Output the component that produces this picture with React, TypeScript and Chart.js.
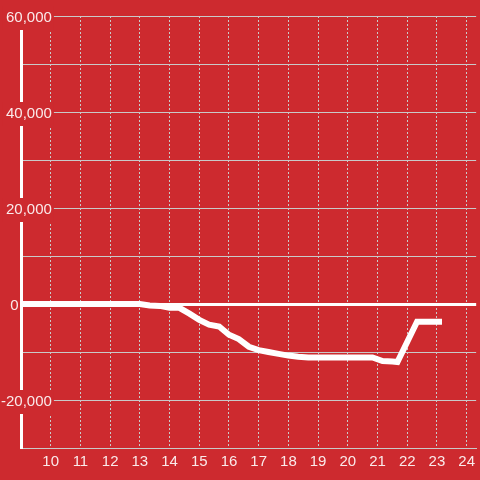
import React, { useEffect, useRef } from "react";
import { Chart, registerables } from "chart.js";

Chart.register(...registerables);

// hour of day (decimal) and running value
const hours = [
  8.5, 9, 10, 11, 12, 13, 13.33, 13.67, 14, 14.33, 14.67, 15, 15.33, 15.67, 16, 16.33,
  16.67, 17, 17.33, 17.67, 18, 18.33, 18.67, 19, 19.5, 20, 20.5, 20.83, 21.17, 21.5,
  21.67, 22.33, 22.67, 23, 23.17,
];
const values = [
  0, 0, 0, 0, 0, 0, -300, -400, -800, -800, -2000, -3300, -4300, -4700, -6400, -7300,
  -8900, -9600, -10000, -10400, -10750, -11000, -11150, -11150, -11150, -11150, -11150,
  -11150, -11900, -12000, -12100, -3700, -3700, -3700, -3700,
];
const yLabelValues = [60000, 40000, 20000, 0, -20000];
const xLabelValues = [10, 11, 12, 13, 14, 15, 16, 17, 18, 19, 20, 21, 22, 23, 24];

const RED = "#cd2a2f";
const GRID = "#c9c9c9";
const TEXT = "rgba(255,255,255,0.9)";
const FONT = { family: "'Liberation Sans', Arial, sans-serif", size: 15 };

export default function App() {
  const ref = useRef<HTMLCanvasElement | null>(null);

  useEffect(() => {
    if (!ref.current) return;
    const chart = new Chart(ref.current, {
      type: "line",
      data: {
        datasets: [
          {
            data: hours.map((h, i) => ({ x: h, y: values[i] })),
            borderColor: "#ffffff",
            borderWidth: 6,
            pointRadius: 0,
            fill: false,
            tension: 0,
          },
        ],
      },
      options: {
        animation: false,
        responsive: false,
        layout: { padding: { top: 16, right: 0, bottom: 0, left: 0 } },
        plugins: { legend: { display: false }, tooltip: { enabled: false } },
        scales: {
          x: {
            type: "linear",
            min: 9,
            max: 24.32,
            afterFit: (s: any) => {
              s.height = 32;
            },
            ticks: {
              stepSize: 1,
              includeBounds: false,
              autoSkip: false,
              maxRotation: 0,
              padding: 5,
              color: TEXT,
              font: FONT,
              callback: (v: any) => (xLabelValues.includes(v) ? String(v) : ""),
            },
            grid: { color: GRID, lineWidth: 1, drawTicks: false },
            border: { display: true, color: GRID, width: 1, dash: [2, 2] },
          },
          y: {
            type: "linear",
            min: -30000,
            max: 60000,
            afterFit: (s: any) => {
              s.width = 21;
            },
            ticks: {
              stepSize: 10000,
              includeBounds: false,
              mirror: true,
              crossAlign: "far",
              padding: -20,
              labelOffset: 2,
              color: TEXT,
              font: FONT,
              showLabelBackdrop: true,
              backdropPadding: { top: 3, bottom: 3, left: 3, right: 2 },
              backdropColor: (ctx: any) =>
                ctx.tick && ctx.tick.value !== 0 && yLabelValues.includes(ctx.tick.value)
                  ? RED
                  : "rgba(0,0,0,0)",
              callback: (v: any) => {
                if (!yLabelValues.includes(v)) return "";
                if (v === 0) return "0" + " ".repeat(8);
                return Number(v).toLocaleString("en-US");
              },
            },
            grid: {
              color: (ctx: any) => (ctx.tick && ctx.tick.value === 0 ? "#ffffff" : GRID),
              lineWidth: (ctx: any) => (ctx.tick && ctx.tick.value === 0 ? 3 : 1),
              drawTicks: false,
            },
            border: { display: true, color: "#ffffff", width: 3 },
          },
        },
      },
    });
    return () => chart.destroy();
  }, []);

  return (
    <div
      style={{
        position: "fixed",
        left: 0,
        top: 0,
        width: 480,
        height: 480,
        background: RED,
      }}
    >
      <canvas ref={ref} width={480} height={480} style={{ display: "block" }} />
    </div>
  );
}
